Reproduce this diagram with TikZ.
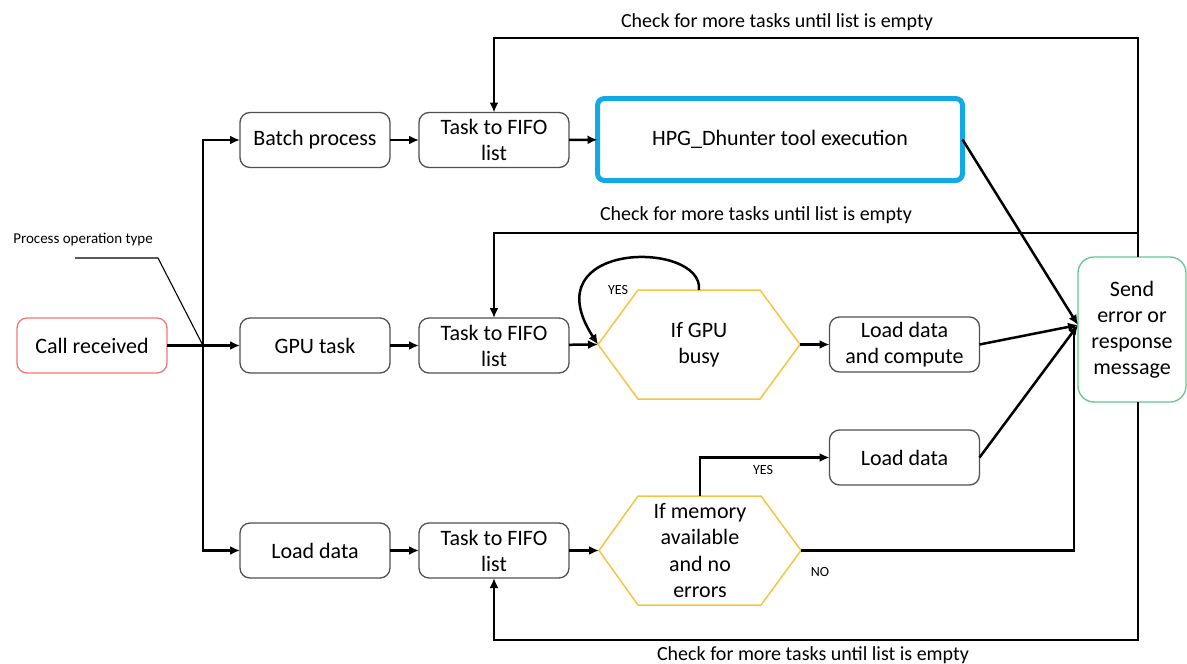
\documentclass[tikz,border=0pt]{standalone}
\usepackage{fontspec}
\setmainfont{Carlito}
\usetikzlibrary{arrows.meta,calc}
\definecolor{boxgray}{HTML}{505050}
\definecolor{callred}{HTML}{F27575}
\definecolor{sendgreen}{HTML}{5CCB8C}
\definecolor{hexyellow}{HTML}{F5C542}
\definecolor{hpgblue}{HTML}{12A9E6}
\begin{document}
\begin{tikzpicture}[x=1pt,y=-1pt,
  box/.style={draw=boxgray, line width=1.3pt, rounded corners=10pt, minimum width=150pt, minimum height=55pt, align=center, font=\fontsize{22pt}{26pt}\selectfont, inner sep=2pt, outer sep=0pt},
  hexn/.style={minimum width=202pt, minimum height=109pt, align=center, font=\fontsize{22pt}{26.5pt}\selectfont, inner sep=0pt, outer sep=0pt},
  hexd/.style={draw=hexyellow, line width=1.5pt, line join=miter},
  conn/.style={line width=2.5pt},
  arr/.style={line width=2.5pt, -{Latex[length=10pt,width=9pt]}},
  loopl/.style={font=\fontsize{20pt}{24pt}\selectfont},
  small/.style={font=\fontsize{14pt}{16pt}\selectfont}
]
\useasboundingbox (0,0) rectangle (1187,664);

% nodes
\node[box, draw=callred] (call) at (92,345.5) {Call received};
\node[box] (batch) at (315,140) {Batch process};
\node[box] (fifo1) at (494,140) {Task to FIFO\\list};
\node[box, draw=hpgblue, line width=5pt, rounded corners=7pt, minimum width=365pt, minimum height=82pt] (hpg) at (780,139.5) {HPG\_Dhunter tool execution};
\node[box] (gpu) at (315,345.5) {GPU task};
\node[box] (fifo2) at (494,345.5) {Task to FIFO\\list};
\node[hexn] (h1) at (699,344.5) {If GPU\\busy};
\draw[hexd] (h1.west) -- ($(h1.north west)+(40,0)$) -- ($(h1.north east)+(-40,0)$) -- (h1.east) -- ($(h1.south east)+(-40,0)$) -- ($(h1.south west)+(40,0)$) -- cycle;
\node[box] (ldc) at (904.5,344.5) {Load data\\and compute};
\node[box, draw=sendgreen, rounded corners=16pt, minimum width=108pt, minimum height=145pt] (send) at (1132,329.5) {Send\\error or\\response\\message};
\node[box] (ldr) at (904.5,457.5) {Load data};
\node[box] (load) at (315,550.5) {Load data};
\node[box] (fifo3) at (494,550.5) {Task to FIFO\\list};
\node[hexn] (h2) at (700,550.5) {If memory\\available\\and no\\errors};
\draw[hexd] (h2.west) -- ($(h2.north west)+(39,0)$) -- ($(h2.north east)+(-40,0)$) -- (h2.east) -- ($(h2.south east)+(-40,0)$) -- ($(h2.south west)+(39,0)$) -- cycle;

% coordinates
\coordinate (j) at (203,345.5);
\coordinate (sin) at (1078,325);
\coordinate (stop) at (1138,257);
\coordinate (sbot) at (1138,402);
\coordinate (pl1) at (75,258);
\coordinate (pl2) at (158,258);

% label for operation type
\node[font=\fontsize{15pt}{17pt}\selectfont] (plabel) at (83,240) {Process operation type};
\draw[line width=1.1pt] (pl1) -- (pl2) -- (j);

% left distribution
\draw[arr] (call) -- (gpu);
\draw[arr] (j) |- (batch);
\draw[arr] (j) |- (load);

% rows
\draw[arr] (batch) -- (fifo1);
\draw[arr] (fifo1) -- (hpg);
\draw[arr] (gpu) -- (fifo2);
\draw[arr] (fifo2) -- (h1.west);
\draw[arr] (h1.east) -- (ldc);
\draw[arr] (load) -- (fifo3);
\draw[arr] (fifo3) -- (h2.west);

% GPU busy self loop
\draw[arr] (h1.north) .. controls (704,240) and (530,240) .. (h1.west);
\node[small] (yes1) at (618,290) {YES};

% memory branch
\draw[arr] (h2.north) |- (ldr);
\node[small] (yes2) at (763,470) {YES};
\draw[conn] (h2.east) -| (1074,327);
\node[small] (no) at (820,572) {NO};

% into send
\draw[arr] (hpg.east) -- (sin);
\draw[arr] (ldc.east) -- (sin);
\draw[arr] (ldr.east) -- (sin);

% loops back
\draw[arr] (stop) -- (1138,38) -| (fifo1.north);
\node[loopl] (lt1) at (777,22) {Check for more tasks until list is empty};
\draw[arr] (stop) -- (1138,233) -| (fifo2.north);
\node[loopl] (lt2) at (756,215) {Check for more tasks until list is empty};
\draw[arr] (sbot) -- (1138,640) -| (fifo3.south);
\node[loopl] (lt3) at (813,655) {Check for more tasks until list is empty};
\end{tikzpicture}
\end{document}
